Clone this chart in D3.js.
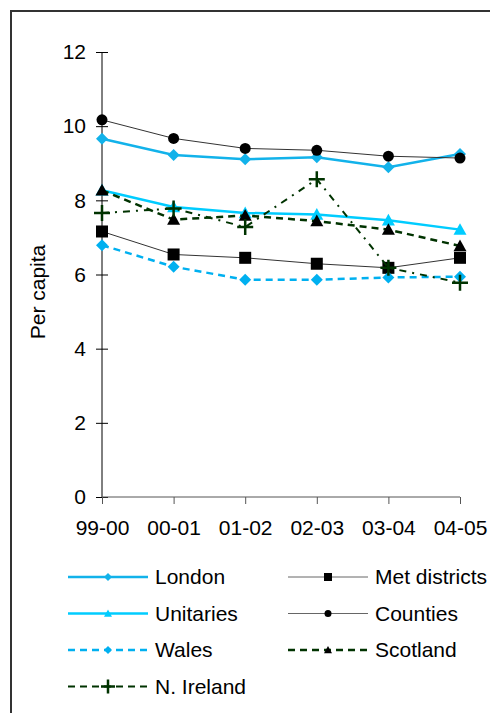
<!DOCTYPE html>
<html>
  <head>
    <meta http-equiv="Content-Type" content="text/html; charset=UTF-8">
    <script src="https://d3js.org/d3.v7.min.js"></script>
    <style type="text/css">
      body { margin: 0; background: #fff; }
      text { font-family: 'Liberation Sans', Arial, sans-serif; fill: #000; }
    </style>
  </head>
  <body>
    <div id="canvas"></div>
    <script type="text/javascript">
      // data
      var years = ['99-00', '00-01', '01-02', '02-03', '03-04', '04-05'];
      var yTicks = [0, 2, 4, 6, 8, 10, 12];

      var london      = [9.66, 9.22, 9.11, 9.16, 8.89, 9.25];
      var metDistricts = [7.16, 6.54, 6.45, 6.29, 6.18, 6.45];
      var unitaries   = [8.27, 7.82, 7.66, 7.62, 7.46, 7.21];
      var counties    = [10.17, 9.67, 9.40, 9.35, 9.19, 9.14];
      var wales       = [6.79, 6.21, 5.86, 5.86, 5.92, 5.94];
      var scotland    = [8.27, 7.48, 7.59, 7.44, 7.21, 6.77];
      var nIreland    = [7.66, 7.78, 7.28, 8.57, 6.18, 5.78];

      var seriesNames = ['London', 'Met districts', 'Unitaries', 'Counties', 'Wales', 'Scotland', 'N. Ireland'];

      var series = [
        {name: seriesNames[0], values: london,       color: '#12b2ea', width: 2.5, dash: null,      marker: 'diamond'},
        {name: seriesNames[1], values: metDistricts, color: '#333333', width: 1,   dash: null,      marker: 'square'},
        {name: seriesNames[2], values: unitaries,    color: '#00ccff', width: 2.5, dash: null,      marker: 'triangle'},
        {name: seriesNames[3], values: counties,     color: '#333333', width: 1,   dash: null,      marker: 'circle'},
        {name: seriesNames[4], values: wales,        color: '#00b0f0', width: 2.5, dash: '7,5',     marker: 'diamond'},
        {name: seriesNames[5], values: scotland,     color: '#003300', width: 2.5, dash: '7,5',     marker: 'triangle'},
        {name: seriesNames[6], values: nIreland,     color: '#003300', width: 2,   dash: '7,6,2,6', marker: 'plus'}
      ];

      var markerFill = function (s) {
        return (s.color === '#333333' || s.name === 'Scotland') ? '#000' : s.color;
      };

      var svg = d3.select('#canvas').append('svg')
                  .attr('width', 490)
                  .attr('height', 713);

      // outer frame
      svg.append('rect')
         .attr('x', 11).attr('y', 11)
         .attr('width', 520).attr('height', 740)
         .attr('fill', 'none')
         .attr('stroke', '#333')
         .attr('stroke-width', 2);

      var x = d3.scalePoint().domain(years).range([102, 460]);
      var y = d3.scaleLinear().domain([0, 12]).range([497, 52]);

      // y axis
      var yAxis = svg.append('g')
          .attr('transform', 'translate(102,0)')
          .call(d3.axisLeft(y).tickValues(yTicks).tickSize(6).tickPadding(10));
      yAxis.select('.domain').attr('stroke', '#000').attr('d', 'M0,' + y(12) + 'V' + y(0));
      yAxis.selectAll('.tick line').attr('x1', 6).attr('stroke', '#000');
      yAxis.selectAll('.tick text').style('font-size', '21px').attr('font-family', null);

      // x axis
      var xAxis = svg.append('g')
          .attr('transform', 'translate(0,497)')
          .call(d3.axisBottom(x).tickSize(7).tickPadding(16));
      xAxis.select('.domain').attr('stroke', '#555').attr('d', 'M102,0H460');
      xAxis.selectAll('.tick line').attr('stroke', '#555');
      xAxis.selectAll('.tick text').style('font-size', '21px').attr('font-family', null);

      // axis title
      svg.append('text')
         .attr('transform', 'translate(45,292) rotate(-90)')
         .attr('text-anchor', 'middle')
         .style('font-size', '21px')
         .text('Per capita');

      var drawMarker = function (g, type, cx, cy, size, fill) {
        var s = size;
        if (type === 'diamond') {
          g.append('path')
           .attr('d', 'M' + cx + ',' + (cy - s) + 'L' + (cx + s) + ',' + cy + 'L' + cx + ',' + (cy + s) + 'L' + (cx - s) + ',' + cy + 'Z')
           .attr('fill', fill);
        } else if (type === 'square') {
          g.append('rect')
           .attr('x', cx - s).attr('y', cy - s)
           .attr('width', s * 2).attr('height', s * 2)
           .attr('fill', fill);
        } else if (type === 'circle') {
          g.append('circle')
           .attr('cx', cx).attr('cy', cy).attr('r', s)
           .attr('fill', fill);
        } else if (type === 'triangle') {
          g.append('path')
           .attr('d', 'M' + cx + ',' + (cy - s) + 'L' + (cx + s) + ',' + (cy + s * 0.8) + 'L' + (cx - s) + ',' + (cy + s * 0.8) + 'Z')
           .attr('fill', fill);
        } else if (type === 'plus') {
          g.append('path')
           .attr('d', 'M' + (cx - s) + ',' + cy + 'H' + (cx + s) + 'M' + cx + ',' + (cy - s) + 'V' + (cy + s))
           .attr('stroke', fill)
           .attr('stroke-width', 2.5)
           .attr('fill', 'none');
        }
      };

      var markerSize = {diamond: 6, square: 6, circle: 5.5, triangle: 6.5, plus: 8};
      var legendMarkerSize = {diamond: 4, square: 4, circle: 3.5, triangle: 4, plus: 7};

      var line = d3.line()
          .x(function (d, i) { return x(years[i]); })
          .y(function (d) { return y(d); });

      series.forEach(function (s) {
        var g = svg.append('g');
        g.append('path')
         .datum(s.values)
         .attr('d', line)
         .attr('fill', 'none')
         .attr('stroke', s.color)
         .attr('stroke-width', s.width)
         .attr('stroke-dasharray', s.dash);
        s.values.forEach(function (v, i) {
          drawMarker(g, s.marker, x(years[i]), y(v), markerSize[s.marker], markerFill(s));
        });
      });

      // legend
      var legendCols = [68, 288];
      var legendTop = 577, legendStep = 36.5;
      series.forEach(function (s, i) {
        var lx = legendCols[i % 2];
        var ly = legendTop + Math.floor(i / 2) * legendStep;
        var g = svg.append('g');
        g.append('line')
         .attr('x1', lx).attr('x2', lx + 80)
         .attr('y1', ly).attr('y2', ly)
         .attr('stroke', s.color === '#333333' ? '#666' : s.color)
         .attr('stroke-width', s.width)
         .attr('stroke-dasharray', s.dash ? '7,5' : null);
        drawMarker(g, s.marker, lx + 40, ly, legendMarkerSize[s.marker], markerFill(s));
        g.append('text')
         .attr('x', lx + 87)
         .attr('y', ly)
         .attr('dy', '0.35em')
         .style('font-size', '21px')
         .text(s.name);
      });
    </script>
  </body>
</html>
